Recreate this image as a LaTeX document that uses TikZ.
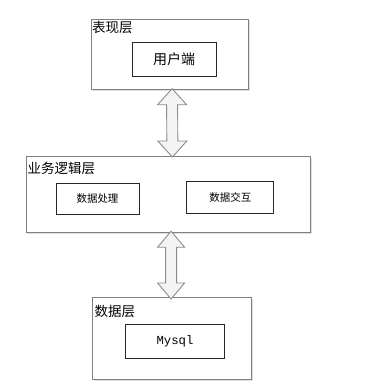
\documentclass[tikz,border=0pt]{standalone}
\usepackage{fontspec}
\newfontfamily\cjk{Noto Sans CJK SC}
\setmonofont{Liberation Mono}
\usetikzlibrary{calc,shadows}
\definecolor{framegray}{HTML}{808080}
\definecolor{arrowfill}{HTML}{F4F4F4}
\definecolor{arrowline}{HTML}{8C8C8C}
\begin{document}
\begin{tikzpicture}[x=1pt,y=-1pt,
  layer/.style={draw=framegray, line width=1.2pt, fill=white, anchor=north west, inner sep=0pt,
    drop shadow={shadow xshift=1.3pt, shadow yshift=-1.3pt, fill=black!12, opacity=1}},
  inbox/.style={draw=black!85, line width=0.9pt, fill=white, inner sep=0pt},
  title/.style={anchor=north west, inner sep=0pt, font=\cjk\fontsize{13.5}{14}\selectfont},
  dbl/.style={draw=arrowline, fill=arrowfill, line width=0.9pt, line join=miter}
]
\useasboundingbox (0,0) rectangle (385,389);

% layers
\node[layer, minimum width=157pt, minimum height=70pt] (l1) at (91,19) {};
\node[layer, minimum width=284.5pt, minimum height=76pt] (l2) at (25.5,156) {};
\node[layer, minimum width=158.7pt, minimum height=82pt] (l3) at (92,297) {};

% titles
\node[title] (t1) at (92,20.5) {表现层};
\node[title] (t2) at (27.5,161.5) {业务逻辑层};
\node[title] (t3) at (94.5,305) {数据层};

% inner boxes
\node[inbox, minimum width=84pt, minimum height=34pt, font=\cjk\fontsize{14}{14}\selectfont] (u) at (174,59) {用户端};
\node[inbox, minimum width=83pt, minimum height=31pt, font=\cjk\fontsize{10.5}{11}\selectfont] (p) at (97.5,198.5) {数据处理};
\node[inbox, minimum width=87pt, minimum height=32pt, font=\cjk\fontsize{10.5}{11}\selectfont] (x) at (230.3,197) {数据交互};
\node[inbox, minimum width=99pt, minimum height=34pt, font=\ttfamily\fontsize{12.3}{13}\selectfont] (m) at (175,341) {Mysql};

% arrow tips
\coordinate (a1) at ($(l1.south)+(2,-1.5)$);
\coordinate (b1) at ($(l2.north)+(4,1)$);
\coordinate (a2) at ($(l2.south)+(2.75,-2)$);
\coordinate (b2) at ($(l3.north)+(-0.85,2)$);

% double arrows
\draw[dbl] (a1) -- ++(14.5,16) -- ++(-9,0) -- ($(b1)+(5.5,-16)$) -- ++(9,0) -- (b1)
  -- ++(-14.5,-16) -- ++(9,0) -- ($(a1)+(-5.5,16)$) -- ++(-9,0) -- cycle;
\draw[dbl] (a2) -- ++(13.5,16) -- ++(-8,0) -- ($(b2)+(5.5,-16)$) -- ++(8,0) -- (b2)
  -- ++(-13.5,-16) -- ++(8,0) -- ($(a2)+(-5.5,16)$) -- ++(-8,0) -- cycle;
\end{tikzpicture}
\end{document}
